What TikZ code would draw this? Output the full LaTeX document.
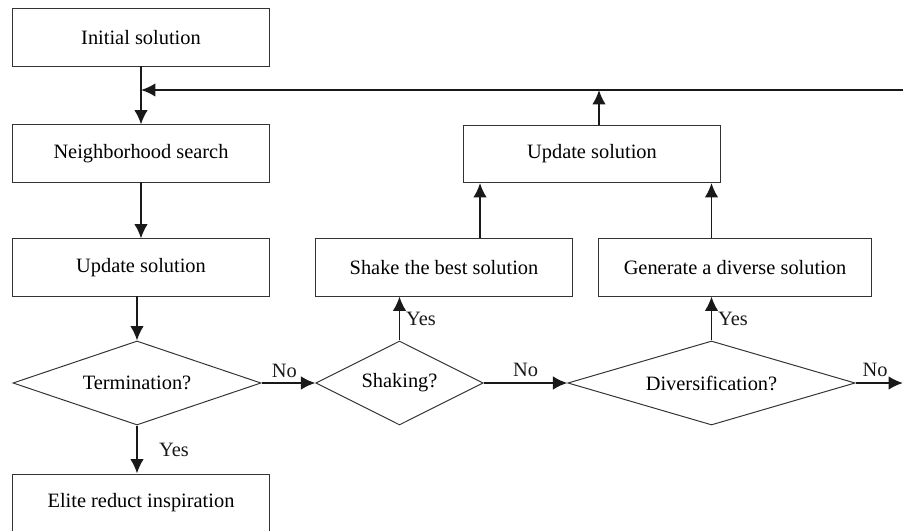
\documentclass[tikz,border=0pt]{standalone}
\usepackage{fontspec}
\setmainfont{Liberation Serif}
\usetikzlibrary{arrows.meta,shapes.geometric}
\tikzset{%
  >={Latex[width=3.4mm,length=3.6mm]},
  % Specifications for style of nodes:
        base/.style = {draw=black!80, line width=0.7pt, inner sep=0pt,
                       text centered, font=\fontsize{14.5}{17}\selectfont},
     process/.style = {base, rectangle, minimum width=6.4cm,
                       minimum height=1.425cm},
    decision/.style = {base, diamond, shape aspect=3,
                       minimum height=2.1cm},
      answer/.style = {font=\fontsize{14.5}{17}\selectfont, inner sep=1pt},
        flow/.style = {->, line width=1.4pt, black!90},
}
\begin{document}
\begin{tikzpicture}[x=0.025cm, y=-0.025cm]
\useasboundingbox (0,0) rectangle (903,531);

\node (Init)  [process] at (141,37.5)  {Initial solution};

\node (NS)    [process] at (141,153.5) {Neighborhood search};

\node (Upd)   [process] at (141,267.5) {Update solution};

\node (Term)  [decision, minimum width=6.2cm] at (137,383) {Termination?};

\node (Elite) [process] at (141,502.5) {Elite reduct inspiration};

\node (Shk)   [decision, minimum width=4.18cm] at (399.5,383) {Shaking?};

\node (Div)   [decision, minimum width=7.18cm] at (711.5,383) {Diversification?};

\node (Shake) [process] at (444,267.5) {Shake the best solution};

\node (Gen)   [process, minimum width=6.8cm] at (735,267.5) {Generate a diverse solution};

\node (UpdT)  [process] at (592,154) {Update solution};

\coordinate (fbR) at (903,90);
\coordinate (fbJ) at (141,90);
\coordinate (upT) at (599,90);
\coordinate (outR) at (903,383);

\draw[flow] (Init) -- (NS);
\draw[flow] (NS) -- (Upd);
\draw[flow] (Term.north |- Upd.south) -- (Term.north);
\draw[flow] (Term.south) -- (Elite.north -| Term.south)
    node[answer, midway, right=14pt] {Yes};
\draw[flow] (Term.east) -- (Shk.west) node[answer, midway, above=2pt, xshift=-3pt] {No};
\draw[flow] (Shk.east) -- (Div.west) node[answer, midway, above=3pt] {No};
\draw[flow] (Div.east) -- (outR) node[answer, midway, above=3pt, xshift=-3pt] {No};
\draw[flow] (Shk.north) -- (Shk.north |- Shake.south)
    node[answer, midway, right=3pt] {Yes};
\draw[flow] (Div.north) -- (Div.north |- Gen.south)
    node[answer, midway, right=3pt] {Yes};
\draw[flow] ([xshift=0.9cm]Shake.north) -- ([xshift=0.9cm]Shake.north |- UpdT.south);
\draw[flow] (Div.north |- Gen.north) -- (Div.north |- UpdT.south);
\draw[flow] (UpdT.north -| upT) -- (upT);
\draw[flow] (fbR) -- (fbJ);
  \end{tikzpicture}
\end{document}
